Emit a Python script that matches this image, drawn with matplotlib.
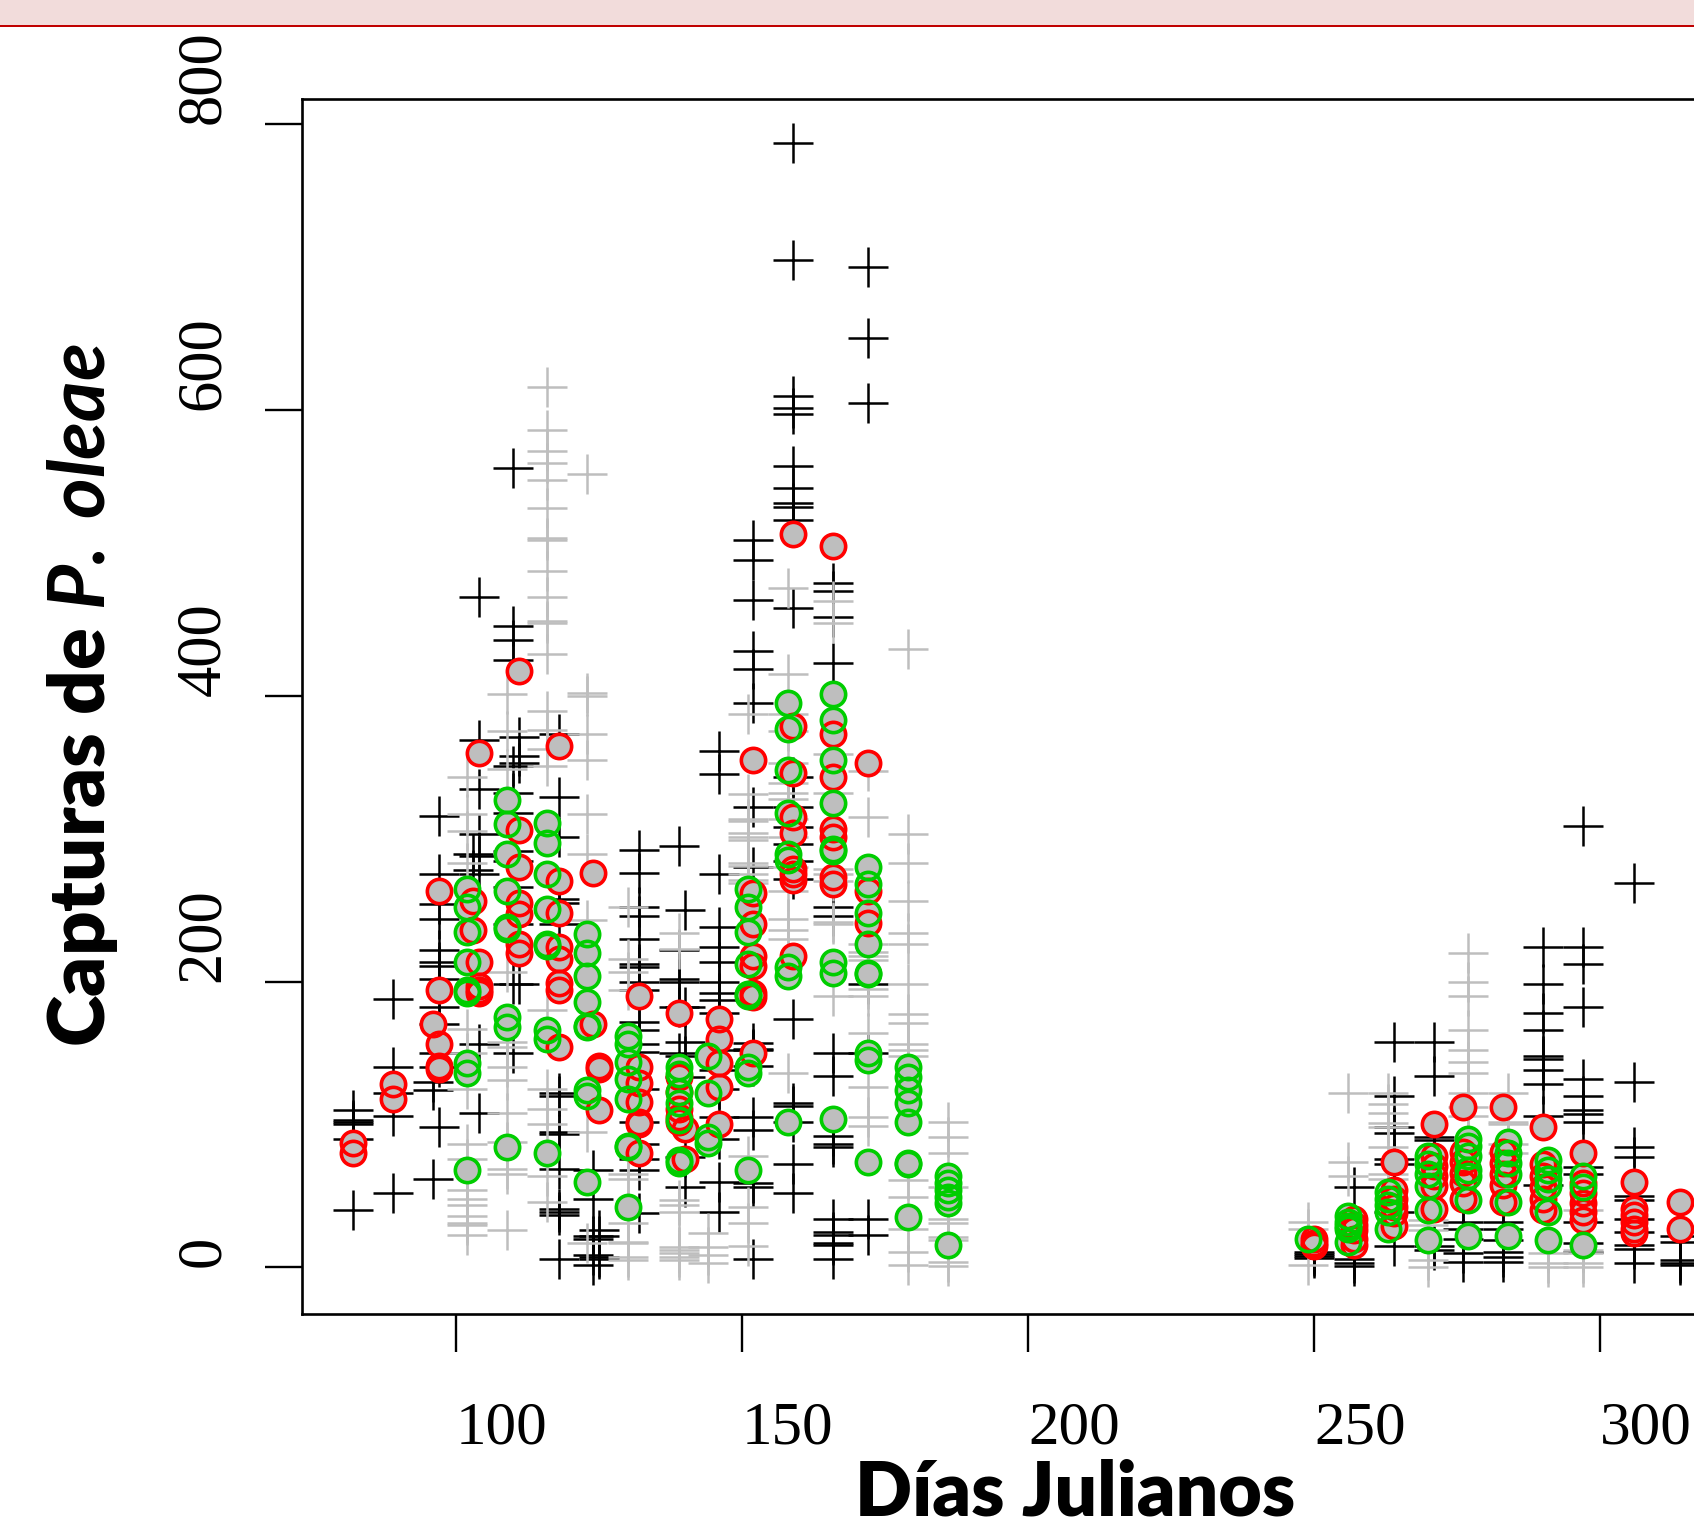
import matplotlib
matplotlib.use("Agg")
import matplotlib.pyplot as plt
from matplotlib.patches import Rectangle

W, H = 1694, 1527

# cruces negras
black_days = [82, 89, 96, 97, 103, 104, 110, 111, 118, 124, 125, 132, 139, 140, 146, 152, 159, 166, 172,
              250, 257, 264, 271, 276, 283, 290, 297, 306, 314]
black_vals = [
    [110, 103, 101.6, 100, 90, 40],
    [188, 140, 122, 106, 52],
    [130, 124, 62],
    [316, 275, 254, 244, 222, 214, 211, 202, 182, 170, 150, 140, 98],
    [289, 278],
    [469, 369, 335, 303, 288, 275, 156, 108],
    [559, 449, 439, 425, 351, 332, 318, 291, 284, 266, 240, 198, 150],
    [371, 358, 353, 198],
    [373, 329, 301, 258, 255, 240, 122, 120, 95, 93, 69, 41, 39, 37, 6],
    [68, 48, 22, 20, 9, 2],
    [26, 22, 7.5, 6],
    [292, 276, 252, 246, 230, 212, 210, 200, 194, 172, 166, 156, 151, 125, 102, 86, 76, 68, 38],
    [295, 222, 202, 200, 182, 150],
    [250, 182, 158, 148, 133, 77, 56],
    [361, 345, 275, 238, 224, 214, 200, 192, 187, 178, 152, 138, 125, 105, 90, 60, 39],
    [509, 495, 467, 431, 419, 395, 322, 280, 157, 153, 152, 141, 105, 96, 59, 56, 6],
    [787, 705, 610, 601, 597, 561, 545, 535, 532, 523, 461, 343, 322, 308, 296, 284, 272, 174, 115, 113, 102, 72, 52],
    [479, 473, 455, 423, 252, 246, 150, 134, 92, 86, 84, 34, 25, 23, 17, 16, 6],
    [700, 650, 605, 198, 150, 34, 23],
    [11, 9.5, 8, 6.5],
    [56, 6, 3, 1],
    [158, 120, 98, 94, 76, 72, 39, 15],
    [158, 134, 91, 89, 15, 12],
    [32, 27, 20, 10, 4],
    [32, 27, 19, 11, 7.5, 4],
    [224, 198, 178, 166, 148, 146, 138, 128, 106, 58],
    [309, 224, 212, 182, 132, 120, 110, 107, 102, 70, 65, 32, 17, 11],
    [269, 130, 84, 77, 50, 47, 34, 25, 16, 13, 3],
    [22, 18, 5, 3, 2],
]

# cruces grises
grey_days = [102, 109, 116, 123, 130, 139, 144, 151, 158, 166, 172, 179, 186,
             249, 256, 263, 270, 277, 284, 291, 297]
grey_vals = [
    [343, 317, 305, 283, 167, 150, 125, 86, 76, 54, 48, 44, 36, 31, 30, 23],
    [401, 375, 349, 207, 158, 154, 140, 131, 108, 88, 69, 65, 26],
    [616, 586, 571, 563, 551, 531, 510, 509, 487, 469, 452, 451, 429, 389, 376, 363, 351, 180, 125, 111, 100, 64, 46],
    [555, 402, 400, 373, 355, 317, 289, 243, 95, 17],
    [252, 216, 207, 194, 65, 62, 31, 18, 17, 7.5, 5],
    [234, 223, 47, 44, 39, 14, 12, 10, 7.5, 5],
    [24, 14, 9, 3],
    [387, 331, 314, 312, 304, 301, 299, 283, 275, 271, 281, 269, 78, 42, 31, 15],
    [475, 415, 387, 375, 353, 339, 332, 328, 314, 301, 280, 263, 244, 236, 230, 136],
    [466, 451, 359, 332, 279, 275, 270, 242, 240, 190],
    [347, 315, 226, 221, 218, 215, 195, 190, 164, 126, 105, 99],
    [433, 303, 283, 256, 234, 226, 198, 177, 171, 156, 152, 148, 61, 49, 27, 11, 2],
    [102, 91, 80, 56, 34, 31, 21, 19, 4, 1],
    [32, 27, 2],
    [122, 74, 64],
    [122, 114, 108, 101, 98, 84, 65, 62],
    [33, 30, 26, 5, 0],
    [220, 200, 190, 166, 152, 144, 136, 122, 112, 106],
    [122, 102, 100, 86, 80],
    [10, 3, 0.5],
    [40, 12, 10, 3, 0.5],
]

# circulos rojos
red_days = [82, 89, 96, 97, 103, 104, 111, 118, 124, 125, 132, 139, 140, 146, 152, 159, 166, 172,
            250, 257, 264, 271, 276, 283, 290, 297, 306, 314]
red_vals = [
    [87, 80],
    [128, 118],
    [170],
    [263, 194, 156, 141, 139],
    [256, 236],
    [360, 214, 197, 194, 192],
    [417, 306, 280, 255, 247, 226, 220],
    [365, 270, 248, 224, 216, 199, 194, 154],
    [276, 170],
    [141, 139, 110],
    [190, 140, 129, 116, 102, 100, 80],
    [178, 133, 123, 111, 105, 102],
    [97, 76],
    [174, 160, 143, 126, 100],
    [355, 262, 240, 218, 211, 192, 189, 150],
    [513, 379, 346, 315, 304, 279, 275, 271, 218],
    [505, 373, 343, 307, 301, 273, 268],
    [353, 263, 241],
    [20, 17, 15],
    [34, 30, 26, 20, 16],
    [74, 54, 48, 42, 38, 29],
    [100, 78, 71, 64, 57, 41],
    [112, 81, 74, 66, 59, 48],
    [112, 81, 73, 65, 58, 46],
    [98, 72, 64, 56, 48, 40],
    [80, 59, 52, 45, 39, 33],
    [60, 41, 37, 32, 27, 24],
    [46, 27],
]

# circulos verdes
green_days = [102, 109, 116, 123, 130, 139, 144, 151, 158, 166, 172, 179, 186,
              249, 256, 263, 270, 277, 284, 291, 297]
green_vals = [
    [265, 252, 235, 214, 194, 192, 143, 136, 68],
    [327, 310, 289, 263, 238, 237, 175, 168, 84],
    [311, 297, 275, 251, 226, 225, 166, 160, 80],
    [233, 220, 204, 186, 169, 168, 124, 120, 60],
    [162, 156, 144, 132, 118, 85, 84, 42],
    [140, 135, 123, 115, 103, 75, 73],
    [148, 122, 91, 87],
    [265, 252, 235, 212, 191, 190, 140, 136, 68],
    [395, 377, 348, 318, 289, 285, 210, 204, 102],
    [401, 383, 355, 325, 293, 291, 214, 206, 104],
    [280, 268, 248, 226, 206, 205, 150, 145, 74],
    [140, 133, 124, 115, 102, 73, 72, 35],
    [64, 59, 54, 49, 45, 16],
    [20],
    [36, 32, 29, 27, 18],
    [53, 48, 44, 39, 27],
    [78, 72, 65, 57, 40, 19],
    [90, 85, 78, 68, 64, 47, 22],
    [88, 80, 73, 65, 46, 22],
    [75, 68, 62, 57, 39, 19],
    [64, 56, 16],
]

y_ticks = [0, 200, 400, 600, 800]
x_ticks = [100, 150, 200, 250, 300]


def expand(days, vals):
    xs, ys = [], []
    for d, col in zip(days, vals):
        xs += [d] * len(col)
        ys += col
    return xs, ys


plt.rcParams["font.family"] = ["Liberation Serif", "DejaVu Serif"]
plt.rcParams["mathtext.fontset"] = "custom"
plt.rcParams["mathtext.bfit"] = "Lato:italic:bold"
plt.rcParams["mathtext.bf"] = "Lato:bold"
plt.rcParams["mathtext.rm"] = "Lato:bold"

fig = plt.figure(figsize=(W / 100, H / 100), dpi=100)

# banda superior
fig.add_artist(Rectangle((0, 1 - 25 / H), 1, 25 / H, transform=fig.transFigure, fc="#f2dcdb", ec="none"))
fig.add_artist(Rectangle((0, 1 - 26.8 / H), 1, 1.8 / H, transform=fig.transFigure, fc="#c00000", ec="none"))

# el eje se sale por la derecha, la imagen esta recortada
ax = fig.add_axes([301.5 / W, 1 - 1314 / H, (1720 - 301.5) / W, (1314 - 98.5) / H])
ax.set_xlim(73, 321)
ax.set_ylim(-32.6, 817.8)
for s in ax.spines.values():
    s.set_linewidth(1.9)

ax.plot(*expand(black_days, black_vals), ls="none", marker="+", ms=29, mew=1.8, color="black", zorder=2)
ax.plot(*expand(grey_days, grey_vals), ls="none", marker="+", ms=29, mew=1.8, color="#bebebe", zorder=3)

# primero los discos grises, luego los anillos
rx, ry = expand(red_days, red_vals)
gx, gy = expand(green_days, green_vals)
ax.plot(rx + gx, ry + gy, ls="none", marker="o", ms=17.5, mew=0, color="#bebebe", zorder=4)
ax.plot(rx, ry, ls="none", marker="o", ms=17.5, mew=2.6, mfc="none", mec="#ff0000", zorder=5)
ax.plot(gx, gy, ls="none", marker="o", ms=17.5, mew=2.6, mfc="none", mec="#00cd00", zorder=6)

ax.set_xticks(x_ticks)
ax.set_yticks(y_ticks)
ax.tick_params(axis="x", length=27, width=1.7, pad=36, labelsize=44)
ax.tick_params(axis="y", length=27, width=1.7, pad=22.5, labelsize=45, labelrotation=90)
for lab in ax.get_xticklabels():
    lab.set_ha("left")
for lab in ax.get_yticklabels():
    lab.set_va("bottom")

fig.text(1075 / W, 1 - 1516 / H, "Días Julianos", family="Lato", weight="heavy",
         fontsize=54, ha="center", va="baseline")
fig.text(82 / W, 1 - 695 / H, r"Capturas de $\mathbfit{P.\,oleae}$", family="Lato", weight="heavy",
         fontsize=56, rotation=90, ha="center", va="center")

plt.savefig("out.png", dpi=100)
